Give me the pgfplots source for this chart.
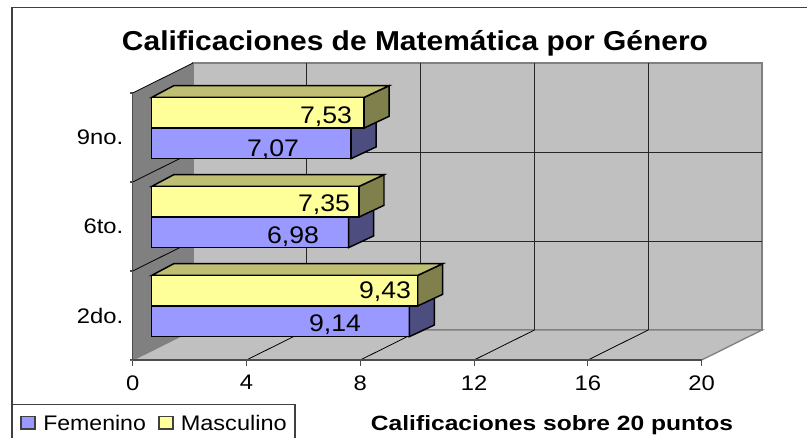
\documentclass[border=0pt]{standalone}
\usepackage{pgfplots}
\pgfplotsset{compat=1.18}
\usepackage{fontspec}
\setmainfont{Liberation Sans}
\definecolor{wall}{HTML}{C0C0C0}
\definecolor{lwall}{HTML}{808080}
\definecolor{fem}{HTML}{9999FF}
\definecolor{masc}{HTML}{FFFF99}
\definecolor{femside}{HTML}{4D4D80}
\definecolor{mascside}{HTML}{80804D}
\definecolor{masctop}{HTML}{BFBF73}
\newcommand{\tickfont}{\fontsize{15.8pt}{17pt}\selectfont}
\newcommand{\valfont}{\fontsize{18pt}{20pt}\selectfont}
\newcommand{\wide}[1]{\scalebox{1.13}[1]{#1}}
\newcommand{\vall}[1]{\valfont\scalebox{1.11}[1]{#1}}
\begin{document}
\begin{tikzpicture}[x=0.75pt,y=0.75pt]
\useasboundingbox (0,0) rectangle (807,438);
% frame
\draw[line width=1pt,black!75] (12,0) -- (12,430.3) -- (807,430.3);
% background axis: scale and walls
\begin{axis}[
  at={(99.525pt,58.5pt)}, anchor=south west, scale only axis,
  width=426.75pt, height=200.25pt,
  xmin=0, xmax=20, ymin=0, ymax=3,
  clip=false,
  axis x line=bottom, axis y line=left,
  axis line style={-, line width=1pt, black!70},
  xtick={0,4,8,12,16,20},
  ytick={0.5,1.5,2.5},
  yticklabels={\wide{2do.},\wide{6to.},\wide{9no.}},
  minor ytick={0,1,2,3},
  major tick length=0pt,
  minor tick length=4.5pt,
  minor tick style={black!70, line width=0.8pt},
  /pgf/number format/assume math mode=true,
  xticklabel={\wide{\pgfmathprintnumber{\tick}}},
  xticklabel style={font=\tickfont, yshift=-8pt},
  yticklabel style={font=\tickfont, xshift=-3.5pt},
  extra x ticks={0,4,8,12,16,20},
  extra x tick labels={},
  extra x tick style={major tick length=4.5pt, tick style={black!70, line width=0.8pt}, tick align=outside},
]
% back wall
\addplot[draw=lwall, line width=1pt, fill=wall] coordinates {(2.122,0.337)(22.122,0.337)(22.122,3.337)(2.122,3.337)} -- cycle;
% floor
\addplot[draw=lwall, line width=1pt, fill=wall] coordinates {(0,0)(20,0)(22.122,0.337)(2.122,0.337)} -- cycle;
% left wall
\addplot[draw=none, fill=lwall] coordinates {(0,0)(2.122,0.337)(2.122,3.337)(0,3)} -- cycle;
% grid on the back wall
\addplot[black!85, line width=0.7pt] coordinates {(6.122,0.337)(6.122,3.337)};
\addplot[black!85, line width=0.7pt] coordinates {(10.122,0.337)(10.122,3.337)};
\addplot[black!85, line width=0.7pt] coordinates {(14.122,0.337)(14.122,3.337)};
\addplot[black!85, line width=0.7pt] coordinates {(18.122,0.337)(18.122,3.337)};
\addplot[black!85, line width=0.7pt] coordinates {(2.122,1.337)(22.122,1.337)};
\addplot[black!85, line width=0.7pt] coordinates {(2.122,2.337)(22.122,2.337)};
% grid on the floor
\addplot[black, line width=0.6pt] coordinates {(4,0)(6.122,0.337)};
\addplot[black, line width=0.6pt] coordinates {(8,0)(10.122,0.337)};
\addplot[black, line width=0.6pt] coordinates {(12,0)(14.122,0.337)};
\addplot[black, line width=0.6pt] coordinates {(16,0)(18.122,0.337)};
% grid on the left wall
\addplot[black, line width=0.6pt] coordinates {(0,1)(2.122,1.337)};
\addplot[black, line width=0.6pt] coordinates {(0,2)(2.122,2.337)};
\addplot[black, line width=0.6pt] coordinates {(0,3)(2.122,3.337)};
\addplot[black!70, line width=1pt] coordinates {(0,0)(20,0)};
\addplot[black!70, line width=1pt] coordinates {(0,0)(0,3)};
\end{axis}
% bars: zero of the bars lies at the front of the depth
\begin{axis}[
  at={(113.775pt,65.6pt)}, anchor=south west, scale only axis,
  width=423pt, height=200.25pt,
  xmin=0, xmax=20, ymin=0.5, ymax=3.5,
  clip=false, axis lines=none,
  xbar, bar width=23pt,
]
\addplot[xbar, bar shift=-11.5pt, fill=fem, draw=black, line width=1.1pt] coordinates {(9.14,1)(6.98,2)(7.07,3)};
% blue sides
\addplot[sharp plot, fill=femside, draw=black, line width=1.1pt] coordinates {(9.14,0.656)(10.027,0.7875)(10.027,1.1315)(9.14,1)} -- cycle;
\addplot[sharp plot, fill=femside, draw=black, line width=1.1pt] coordinates {(6.98,1.656)(7.867,1.7875)(7.867,2.1315)(6.98,2)} -- cycle;
\addplot[sharp plot, fill=femside, draw=black, line width=1.1pt] coordinates {(7.07,2.656)(7.957,2.7875)(7.957,3.1315)(7.07,3)} -- cycle;
% yellow sides and tops
\addplot[sharp plot, fill=mascside, draw=black, line width=1.1pt] coordinates {(9.43,1)(10.317,1.1315)(10.317,1.4755)(9.43,1.344)} -- cycle;
\addplot[sharp plot, fill=mascside, draw=black, line width=1.1pt] coordinates {(7.35,2)(8.237,2.1315)(8.237,2.4755)(7.35,2.344)} -- cycle;
\addplot[sharp plot, fill=mascside, draw=black, line width=1.1pt] coordinates {(7.53,3)(8.417,3.1315)(8.417,3.4755)(7.53,3.344)} -- cycle;
\addplot[sharp plot, fill=masctop, draw=black, line width=1.1pt] coordinates {(0,1.344)(0.78,1.4755)(10.317,1.4755)(9.43,1.344)} -- cycle;
\addplot[sharp plot, fill=masctop, draw=black, line width=1.1pt] coordinates {(0,2.344)(0.78,2.4755)(8.237,2.4755)(7.35,2.344)} -- cycle;
\addplot[sharp plot, fill=masctop, draw=black, line width=1.1pt] coordinates {(0,3.344)(0.78,3.4755)(8.417,3.4755)(7.53,3.344)} -- cycle;
\addplot[xbar, bar shift=11.5pt, fill=masc, draw=black, line width=1.1pt] coordinates {(9.43,1)(7.35,2)(7.53,3)};
\end{axis}
% value labels
\node at (326,321.5) {\vall{7,53}};
\node at (273,288.5) {\vall{7,07}};
\node at (324,233.5) {\vall{7,35}};
\node at (293,201.5) {\vall{6,98}};
\node at (385,146.5) {\vall{9,43}};
\node at (335,113.5) {\vall{9,14}};
% title and axis title
\node at (415,394.5) {\fontsize{20.5pt}{23pt}\selectfont\bfseries\resizebox{439.5pt}{\height}{Calificaciones de Matemática por Género}};
\node at (552,13) {\fontsize{15.5pt}{17pt}\selectfont\bfseries\resizebox{271.5pt}{\height}{Calificaciones sobre 20 puntos}};
% legend
\draw[line width=0.9pt,black!75] (12,33.7) -- (295,33.7) -- (295,0);
\draw[line width=0.9pt,black!75,fill=fem] (21,9) rectangle (35,21.3);
\draw[line width=0.9pt,black!75,fill=masc] (159,9) rectangle (173,21.3);
\node[anchor=west,inner sep=0pt] at (43,15.5) {\tickfont\resizebox{77pt}{\height}{Femenino}};
\node[anchor=west,inner sep=0pt] at (180.5,15.5) {\tickfont\resizebox{79.5pt}{\height}{Masculino}};
\end{tikzpicture}
\end{document}
